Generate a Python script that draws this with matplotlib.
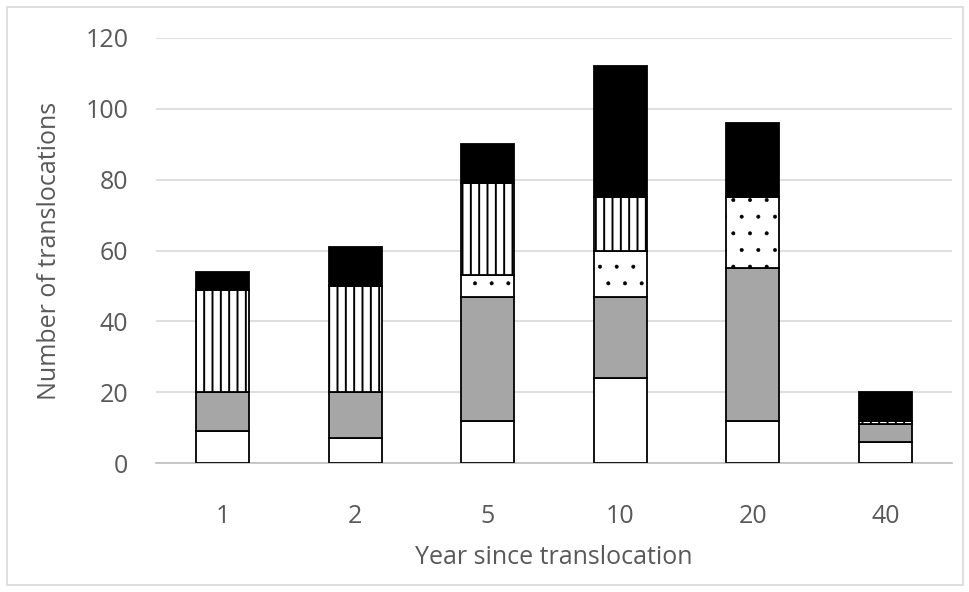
import matplotlib.pyplot as plt
import numpy as np
from matplotlib.patches import Rectangle

plt.rcParams['font.family'] = ['Open Sans', 'DejaVu Sans']
plt.rcParams['hatch.linewidth'] = 1.4

# years since translocation (x categories)
years = ['1', '2', '5', '10', '20', '40']

# stacked counts, bottom to top
white_seg = [9, 7, 12, 24, 12, 6]
gray_seg = [11, 13, 35, 23, 43, 5]
dotted_seg = [0, 0, 6, 13, 20, 0]
striped_seg = [29, 30, 26, 15, 0, 1]
black_seg = [5, 11, 11, 37, 21, 8]

text_col = '#595959'
grid_col = '#d9d9d9'

fig = plt.figure(figsize=(9.7, 5.92), dpi=100)
ax = fig.add_axes([0.161, 0.2174, 0.820, 0.7189])

# light frame round the whole chart area
fig.patches.append(Rectangle((0.007, 0.011), 0.986, 0.978, transform=fig.transFigure,
                             fill=False, edgecolor=grid_col, lw=1.2))

x = np.arange(len(years))
width = 0.40
bottom = np.zeros(len(years))
styles = [
    (white_seg, 'white', None, 1.4),
    (gray_seg, '#a6a6a6', None, 1.4),
    (dotted_seg, 'white', '.', 0.4),
    (striped_seg, 'white', '||', 1.4),
    (black_seg, 'black', None, 1.4),
]
for vals, fc, hatch, hlw in styles:
    vals = np.array(vals, dtype=float)
    with plt.rc_context({'hatch.linewidth': hlw}):
        ax.bar(x, vals, width, bottom=bottom, color=fc, edgecolor='black',
               linewidth=1.3, hatch=hatch, zorder=3)
    bottom += vals

ax.set_xlim(-0.5, len(years) - 0.5)
ax.set_ylim(0, 120)
ax.set_yticks(range(0, 121, 20))
ax.set_xticks(x)
ax.set_xticklabels(years)

ax.grid(axis='y', color=grid_col, lw=1.2, zorder=0)
for side in ['top', 'right', 'left']:
    ax.spines[side].set_visible(False)
ax.spines['bottom'].set_color('#bfbfbf')
ax.spines['bottom'].set_linewidth(1.2)
ax.tick_params(axis='both', length=0, labelsize=18, labelcolor=text_col)
ax.tick_params(axis='x', pad=29)
ax.tick_params(axis='y', pad=20)

ax.set_xlabel('Year since translocation', fontsize=18, color=text_col)
ax.set_ylabel('Number of translocations', fontsize=18, color=text_col)
ax.xaxis.set_label_coords(0.5, -0.192)
ax.yaxis.set_label_coords(-0.119, 0.5)

fig.savefig('out.png', dpi=100)
